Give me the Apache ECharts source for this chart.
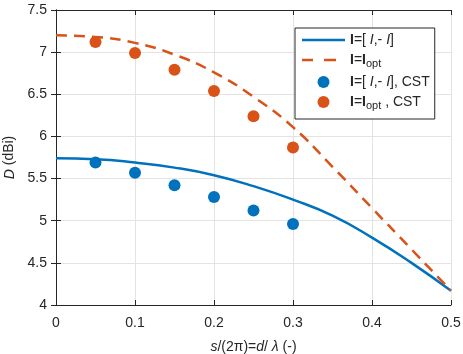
<!DOCTYPE html>
<html>
<head>
<meta charset="utf-8">
<script src="https://cdn.jsdelivr.net/npm/echarts@6/dist/echarts.min.js"></script>
<style>
  html, body { margin: 0; padding: 0; background: #fff; }
  #chart { width: 463px; height: 354px; }
</style>
</head>
<body>
<div id="chart"></div>
<script>
// spacing s/(2pi) = d/lambda
const xLine = [0, 0.05, 0.1, 0.15, 0.2, 0.25, 0.3, 0.35, 0.4, 0.45, 0.5]
// I = [I, -I], analytic
const dAnti = [5.74, 5.73, 5.69, 5.63, 5.54, 5.41, 5.25, 5.06, 4.80, 4.50, 4.17]
// I = I_opt, analytic
const dOpt = [7.20, 7.18, 7.11, 6.97, 6.76, 6.47, 6.11, 5.64, 5.15, 4.66, 4.17]

// CST simulations
const xCst = [0.05, 0.1, 0.15, 0.2, 0.25, 0.3]
const dAntiCst = [5.69, 5.57, 5.42, 5.28, 5.12, 4.96]
const dOptCst = [7.12, 6.99, 6.79, 6.54, 6.24, 5.87]

const xTicks = [0, 0.1, 0.2, 0.3, 0.4, 0.5]
const yTicks = [4, 4.5, 5, 5.5, 6, 6.5, 7, 7.5]

const blue = '#0072BD'
const orange = '#D95319'
const ink = '#262626'
const font = "'Liberation Sans', Arial, sans-serif"

const pairs = (xs, ys) => xs.map((x, i) => [x, ys[i]])

const legendText = {
  anti: '{b|I}{n|=[ }{i|I}{n|,- }{i|I}{n|]}',
  opt: '{b|I}{n|=}{b|I}{s|opt}',
  antiCst: '{b|I}{n|=[ }{i|I}{n|,- }{i|I}{n|], CST}',
  optCst: '{b|I}{n|=}{b|I}{s|opt}{n| , CST}'
}
// legend line samples (tiny square at the end keeps the icon 43px wide)
const solidIcon = 'path://M0,0h43v2.5h-43Z'
const dashIcon = 'path://M0,0h11v2.5h-11Z M22,0h12v2.5h-12Z M42.99,1.2h0.01v0.01h-0.01Z'

const myChart = echarts.init(document.getElementById('chart'))

const axisCommon = {
  type: 'value',
  axisLine: { show: true, lineStyle: { color: ink, width: 1 } },
  axisTick: { show: true, inside: true, length: 5, lineStyle: { color: ink } },
}
const italic = { fontStyle: 'italic', fontSize: 14, color: ink, fontFamily: font }

myChart.setOption({
  animation: false,
  textStyle: { fontFamily: font },
  grid: { left: 56, right: 12, top: 10, bottom: 49, outerBoundsMode: 'none' },
  xAxis: [
    {
      ...axisCommon,
      min: xTicks[0], max: xTicks[xTicks.length - 1], interval: 0.1,
      position: 'bottom',
      axisLabel: { color: ink, fontSize: 14, margin: 11, fontFamily: font },
      splitLine: { show: true, lineStyle: { color: '#e3e3e3' } },
      name: '{i|s}/(2π)={i|d}/ {i|λ} (-)',
      nameLocation: 'middle',
      nameGap: 35,
      nameTextStyle: { color: ink, fontSize: 14, fontFamily: font, rich: { i: italic } }
    },
    {
      ...axisCommon,
      min: xTicks[0], max: xTicks[xTicks.length - 1], interval: 0.1,
      position: 'top',
      axisLabel: { show: false },
      splitLine: { show: false }
    }
  ],
  yAxis: [
    {
      ...axisCommon,
      min: yTicks[0], max: yTicks[yTicks.length - 1], interval: 0.5,
      position: 'left',
      axisLabel: { color: ink, fontSize: 14, margin: 9, fontFamily: font },
      splitLine: { show: true, lineStyle: { color: '#e3e3e3' } },
      name: '{i|D} (dBi)',
      nameLocation: 'middle',
      nameRotate: 90,
      nameGap: 37,
      nameTextStyle: { color: ink, fontSize: 14, fontFamily: font, rich: { i: italic } }
    },
    {
      ...axisCommon,
      min: yTicks[0], max: yTicks[yTicks.length - 1], interval: 0.5,
      position: 'right',
      axisLabel: { show: false },
      splitLine: { show: false }
    }
  ],
  legend: {
    orient: 'vertical',
    left: 295,
    top: 28,
    padding: [5, 5, 8, 7],
    itemWidth: 43,
    itemHeight: 12,
    itemGap: 6,
    backgroundColor: '#fff',
    borderColor: ink,
    borderWidth: 1,
    borderRadius: 0,
    data: [
      { name: 'anti', icon: solidIcon },
      { name: 'opt', icon: dashIcon },
      { name: 'antiCst', icon: 'circle' },
      { name: 'optCst', icon: 'circle' }
    ],
    formatter: (name) => legendText[name],
    textStyle: {
      color: ink,
      fontSize: 14,
      fontFamily: font,
      rich: {
        n: { fontSize: 14, color: ink, fontFamily: font },
        b: { fontSize: 14, color: ink, fontFamily: font, fontWeight: 'bold' },
        i: italic,
        s: { fontSize: 11, color: ink, fontFamily: font, padding: [7, 0, 0, 0] }
      }
    }
  },
  series: [
    {
      name: 'anti',
      type: 'line',
      data: pairs(xLine, dAnti),
      smooth: 0.5,
      symbol: 'none',
      lineStyle: { color: blue, width: 2.5 },
      itemStyle: { color: blue },
      z: 2
    },
    {
      name: 'opt',
      type: 'line',
      data: pairs(xLine, dOpt),
      smooth: 0.5,
      symbol: 'none',
      lineStyle: { color: orange, width: 2.5, type: [11, 7] },
      itemStyle: { color: orange },
      z: 2
    },
    {
      name: 'antiCst',
      type: 'scatter',
      data: pairs(xCst, dAntiCst),
      symbol: 'circle',
      symbolSize: 12,
      itemStyle: { color: blue, opacity: 1 },
      z: 3
    },
    {
      name: 'optCst',
      type: 'scatter',
      data: pairs(xCst, dOptCst),
      symbol: 'circle',
      symbolSize: 12,
      itemStyle: { color: orange, opacity: 1 },
      z: 3
    }
  ]
})
</script>
</body>
</html>
